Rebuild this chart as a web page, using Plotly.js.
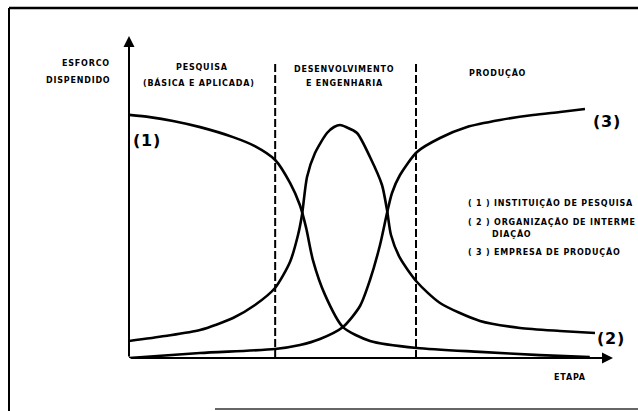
<!DOCTYPE html>
<html>
<head>
<meta charset="utf-8">
<script src="https://cdn.plot.ly/plotly-3.0.1.min.js"></script>
<style>
html,body{margin:0;padding:0;background:#fff;}
#chart{width:638px;height:411px;}
.annotation-text{letter-spacing:0.8px;}
</style>
</head>
<body>
<div id="chart"></div>
<script>
// ---- Data (stage on x: 0..10, effort on y: 0..100) ----
const curve1X = [0, 0.43, 0.91, 1.47, 2.15, 2.60, 3.02, 3.33, 3.53, 3.66, 3.80, 4.05, 4.42, 4.98, 5.95, 7.25, 8.49, 9.52];
const curve1Y = [75.5, 74.8, 73.6, 71.7, 68.6, 65.8, 61.5, 54.3, 47.5, 40.4, 30.4, 19.6, 9.6, 5.3, 3.1, 1.9, 0.9, 0.3];

const curve2X = [0, 0.744, 1.467, 2.149, 2.603, 3.017, 3.326, 3.492, 3.574, 3.678, 3.843, 4.091, 4.236, 4.360, 4.484, 4.711, 4.979, 5.227, 5.331, 5.413, 5.599, 5.950, 6.426, 7.252, 8.079, 8.905, 9.628];
const curve2Y = [5.28, 6.83, 8.70, 12.42, 16.46, 21.74, 29.81, 38.20, 44.41, 56.21, 63.66, 69.88, 71.74, 72.36, 71.74, 69.88, 62.42, 53.73, 45.96, 38.20, 31.06, 23.60, 17.08, 11.49, 9.32, 8.39, 7.76];

const curve3X = [0, 1.467, 3.017, 3.533, 3.946, 4.421, 4.773, 4.979, 5.186, 5.331, 5.434, 5.599, 5.950, 6.426, 6.983, 7.665, 8.347, 8.905, 9.421];
const curve3Y = [0, 1.55, 2.80, 4.04, 5.90, 9.63, 16.15, 24.22, 35.09, 45.03, 51.24, 56.83, 63.98, 68.32, 71.74, 73.91, 75.47, 76.40, 77.33];

const stageBounds = [3.02, 5.93];

const yAxisLabel = ["ESFORCO", "DISPENDIDO"];
const xAxisLabel = "ETAPA";
const stageNames = [["PESQUISA", "(BÁSICA E APLICADA)"], ["DESENVOLVIMENTO", "E ENGENHARIA"], ["PRODUÇÃO"]];
const curveTags = ["(1)", "(2)", "(3)"];
const legendLines = ["( 1 ) INSTITUIÇÃO DE PESQUISA", "( 2 ) ORGANIZAÇÃO DE INTERME", "DIAÇÃO", "( 3 ) EMPRESA DE PRODUÇÃO"];

// ---- Layout helpers (pixel -> paper) ----
const W = 638, H = 411;
const L = 129, R = 613, T = 36, B = 358;
const px = x => (x - L) / (R - L);
const py = y => (B - y) / (B - T);

const lineStyle = {color: '#000', width: 2.6, shape: 'spline', smoothing: 0.7};
const traces = [
  {x: curve1X, y: curve1Y, mode: 'lines', line: lineStyle, cliponaxis: false, hoverinfo: 'skip'},
  {x: curve2X, y: curve2Y, mode: 'lines', line: lineStyle, cliponaxis: false, hoverinfo: 'skip'},
  {x: curve3X, y: curve3Y, mode: 'lines', line: lineStyle, cliponaxis: false, hoverinfo: 'skip'}
];

const small = {family: 'DejaVu Sans', size: 8, color: '#000', weight: 'bold'};
const big = {family: 'DejaVu Sans', size: 16, color: '#000', weight: 'bold'};

function txt(text, x, y, xanchor, font) {
  return {text: '<b>' + text + '</b>', x: px(x), y: py(y), xref: 'paper', yref: 'paper',
          xanchor: xanchor, yanchor: 'middle', showarrow: false, font: font || small, borderpad: 0};
}

const annotations = [
  // axes with arrows
  {x: 0, y: 100, ax: 0, ay: 0, xref: 'x', yref: 'y', axref: 'x', ayref: 'y', text: '',
   showarrow: true, arrowhead: 2, arrowsize: 1.1, arrowwidth: 2, arrowcolor: '#000', standoff: 0},
  {x: 10, y: 0, ax: 0, ay: 0, xref: 'x', yref: 'y', axref: 'x', ayref: 'y', text: '',
   showarrow: true, arrowhead: 2, arrowsize: 1.1, arrowwidth: 2, arrowcolor: '#000', standoff: 0},
  txt(yAxisLabel[0], 111, 63, 'right'),
  txt(yAxisLabel[1], 111, 80, 'right'),
  txt(stageNames[0][0], 202, 67, 'center'),
  txt(stageNames[0][1], 199, 82, 'center'),
  txt(stageNames[1][0], 344, 69, 'center'),
  txt(stageNames[1][1], 344, 83, 'center'),
  txt(stageNames[2][0], 497, 73, 'center'),
  txt(curveTags[0], 132, 140, 'left', big),
  txt(curveTags[1], 596, 338, 'left', big),
  txt(curveTags[2], 592, 122, 'left', big),
  txt(legendLines[0], 467, 203, 'left'),
  txt(legendLines[1], 467, 222, 'left'),
  txt(legendLines[2], 491, 234, 'left'),
  txt(legendLines[3], 467, 252, 'left'),
  txt(xAxisLabel, 570, 377, 'center')
];

const shapes = stageBounds.map(b => ({
  type: 'line', xref: 'x', yref: 'y', x0: b, x1: b, y0: 0, y1: 92,
  line: {color: '#000', width: 2, dash: '8px,3px'}
}));
// frame
shapes.push({type: 'line', xref: 'paper', yref: 'paper', x0: px(9), x1: px(638), y0: py(8), y1: py(8), line: {color: '#000', width: 2.5}});
shapes.push({type: 'line', xref: 'paper', yref: 'paper', x0: px(9), x1: px(9), y0: py(8), y1: py(411), line: {color: '#000', width: 2}});
shapes.push({type: 'line', xref: 'paper', yref: 'paper', x0: px(215), x1: px(638), y0: py(409), y1: py(409), line: {color: '#333', width: 1.5}});

const layout = {
  width: W, height: H,
  margin: {l: L, r: W - R, t: T, b: H - B, pad: 0},
  paper_bgcolor: '#fff', plot_bgcolor: '#fff',
  showlegend: false,
  xaxis: {range: [0, 10], visible: false, fixedrange: true},
  yaxis: {range: [0, 100], visible: false, fixedrange: true},
  annotations: annotations,
  shapes: shapes
};

Plotly.newPlot('chart', traces, layout, {staticPlot: true, displayModeBar: false});
</script>
</body>
</html>
